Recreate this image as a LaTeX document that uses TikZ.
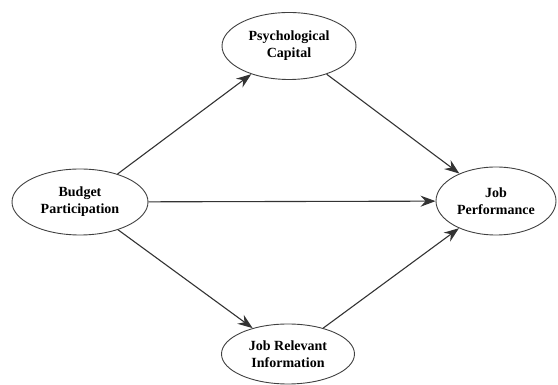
\documentclass[tikz,border=0pt]{standalone}
\usepackage{fontspec}
\setmainfont{Liberation Serif}
\usetikzlibrary{arrows.meta,shapes.geometric}
\begin{document}
\begin{tikzpicture}[x=1pt,y=1pt,
  var/.style={draw=black!75,line width=0.9pt,ellipse,inner sep=0pt,align=center,
    font=\fontsize{14}{17}\selectfont\bfseries},
  link/.style={draw=black!80,line width=1.1pt,-{Stealth[length=15pt,width=11pt,inset=5pt]}}]
\useasboundingbox (0,0) rectangle (558,385);
\node[var,minimum width=136pt,minimum height=66pt] (bp) at (80,183) {Budget\\Participation};
\node[var,minimum width=134pt,minimum height=67pt] (pc) at (289,339) {Psychological\\Capital};
\node[var,minimum width=133pt,minimum height=60pt] (jri) at (288,31) {Job Relevant\\Information};
\node[var,minimum width=120pt,minimum height=68pt] (jp) at (496,184) {Job\\Performance};
\draw[link] (bp) -- (pc);
\draw[link] (bp) -- (jp);
\draw[link] (bp) -- (jri);
\draw[link] (pc) -- (jp);
\draw[link] (jri) -- (jp);
\end{tikzpicture}
\end{document}
